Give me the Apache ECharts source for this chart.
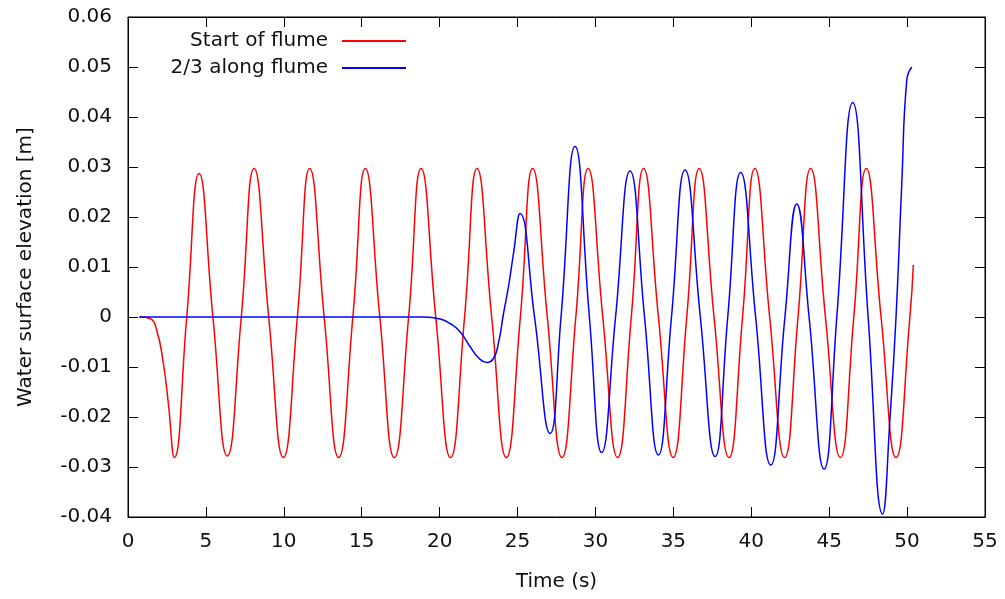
<!DOCTYPE html>
<html>
<head>
<meta charset="utf-8">
<script src="https://cdn.jsdelivr.net/npm/echarts@6/dist/echarts.min.js"></script>
<style>
html,body{margin:0;padding:0;background:#fff;}
#chart{width:1005px;height:599px;}
</style>
</head>
<body>
<div id="chart"></div>
<script>
// Values (time in s, elevation in m)
const redT = [0.77, 1.41, 1.84, 2.27, 2.59, 2.97, 3.77, 4.56, 5.45, 6.37, 7.27, 8.09, 9.03, 9.97, 10.87, 11.66, 12.59, 13.52, 14.43, 15.23, 16.16, 17.09, 18.01, 18.81, 19.75, 20.7, 21.6, 22.4, 23.34, 24.28, 25.18, 25.97, 26.91, 27.85, 28.74, 29.53, 30.47, 31.42, 32.3, 33.09, 34.04, 34.99, 35.86, 36.66, 37.61, 38.57, 39.44, 40.23, 41.18, 42.14, 43.0, 43.81, 44.76, 45.72, 46.58, 47.38, 48.33, 49.29, 50.18, 50.4];
const redV = [0, -0.0003, -0.0026, -0.0093, -0.0173, -0.0281, 0, 0.0287, 0, -0.0278, 0, 0.0297, 0, -0.0281, 0, 0.0297, 0, -0.0281, 0, 0.0297, 0, -0.0281, 0, 0.0297, 0, -0.0281, 0, 0.0297, 0, -0.0281, 0, 0.0297, 0, -0.0281, 0, 0.0297, 0, -0.0281, 0, 0.0297, 0, -0.0281, 0, 0.0297, 0, -0.0281, 0, 0.0297, 0, -0.0281, 0, 0.0297, 0, -0.0281, 0, 0.0297, 0, -0.0281, 0, 0.0104];

const blueT = [0.72, 19.0, 20.03, 20.67, 21.3, 21.95, 22.48, 23.02, 23.45, 23.77, 24.1, 24.42, 24.74, 25.16, 26.09, 27.09, 27.79, 28.69, 29.61, 30.4, 31.29, 32.22, 33.15, 34.04, 34.88, 35.75, 36.73, 37.68, 38.49, 39.32, 40.28, 41.25, 42.16, 42.92, 43.71, 44.67, 45.49, 46.51, 47.5, 48.43, 48.91, 49.29, 49.66, 49.98, 50.3];
const blueV = [0, 0, -0.0004, -0.0013, -0.0029, -0.0059, -0.0081, -0.0091, -0.0083, -0.0053, 0.0007, 0.0061, 0.0127, 0.0207, 0, -0.0233, 0, 0.0341, 0, -0.0271, 0, 0.0292, 0, -0.0276, 0, 0.0294, 0, -0.0279, 0, 0.0289, 0, -0.0296, 0, 0.0226, 0, -0.0304, 0, 0.0429, 0, -0.0394, -0.0199, 0, 0.0267, 0.0474, 0.050];

const xTicks = {min: 0, max: 55, interval: 5};
const yTicks = {min: -0.04, max: 0.06, interval: 0.01};

const seriesNames = ['Start of flume', '2/3 along flume'];
const seriesColors = ['#ff0000', '#0000ff'];
const zip = (a, b) => a.map((t, i) => [t, b[i]]);

const FONT = 'DejaVu Sans';
const TEXT = '#111';
const chart = echarts.init(document.getElementById('chart'), null, {renderer: 'canvas'});

const axisCommon = () => ({
  axisLine: {show: true, onZero: false, lineStyle: {color: '#000', width: 1}},
  axisTick: {show: true, inside: true, length: 10, lineStyle: {color: '#000', width: 1}},
  splitLine: {show: false}
});

chart.setOption({
  animation: false,
  backgroundColor: '#fff',
  textStyle: {fontFamily: FONT},
  grid: {left: 128, right: 20, top: 17, bottom: 82, show: true, borderColor: '#000', borderWidth: 1, backgroundColor: 'transparent'},
  legend: [
    {
      data: [seriesNames[0]], right: 599, top: 29, padding: 0, align: 'right', orient: 'vertical',
      itemWidth: 64, itemHeight: 2, icon: 'rect',
      textStyle: {fontFamily: FONT, fontSize: 20, color: TEXT, padding: [0, 9, 0, 0], lineHeight: 24}
    },
    {
      data: [seriesNames[1]], right: 599, top: 56, padding: 0, align: 'right', orient: 'vertical',
      itemWidth: 64, itemHeight: 2, icon: 'rect',
      textStyle: {fontFamily: FONT, fontSize: 20, color: TEXT, padding: [0, 9, 0, 0], lineHeight: 24}
    }
  ],
  xAxis: [
    Object.assign({
      type: 'value', position: 'bottom', min: xTicks.min, max: xTicks.max, interval: xTicks.interval,
      name: 'Time (s)', nameLocation: 'middle', nameGap: 55,
      nameTextStyle: {fontFamily: FONT, fontSize: 20, color: TEXT},
      axisLabel: {fontFamily: FONT, fontSize: 20, color: TEXT, margin: 15}
    }, axisCommon()),
    Object.assign({
      type: 'value', position: 'top', min: xTicks.min, max: xTicks.max, interval: xTicks.interval,
      axisLabel: {show: false}
    }, axisCommon())
  ],
  yAxis: [
    Object.assign({
      type: 'value', position: 'left', min: yTicks.min, max: yTicks.max, interval: yTicks.interval,
      name: 'Water surface elevation [m]', nameLocation: 'middle', nameGap: 92, nameRotate: 90,
      nameTextStyle: {fontFamily: FONT, fontSize: 20, color: TEXT},
      axisLabel: {fontFamily: FONT, fontSize: 20, color: TEXT, margin: 16,
        formatter: v => String(+(+v).toFixed(2))}
    }, axisCommon()),
    Object.assign({
      type: 'value', position: 'right', min: yTicks.min, max: yTicks.max, interval: yTicks.interval,
      axisLabel: {show: false}
    }, axisCommon())
  ],
  series: [
    {
      name: seriesNames[0], type: 'line', data: zip(redT, redV), smooth: 0.5,
      showSymbol: false, color: seriesColors[0], lineStyle: {color: seriesColors[0], width: 1.5}
    },
    {
      name: seriesNames[1], type: 'line', data: zip(blueT, blueV), smooth: 0.5,
      showSymbol: false, color: seriesColors[1], lineStyle: {color: seriesColors[1], width: 1.5}
    }
  ]
});
</script>
</body>
</html>
